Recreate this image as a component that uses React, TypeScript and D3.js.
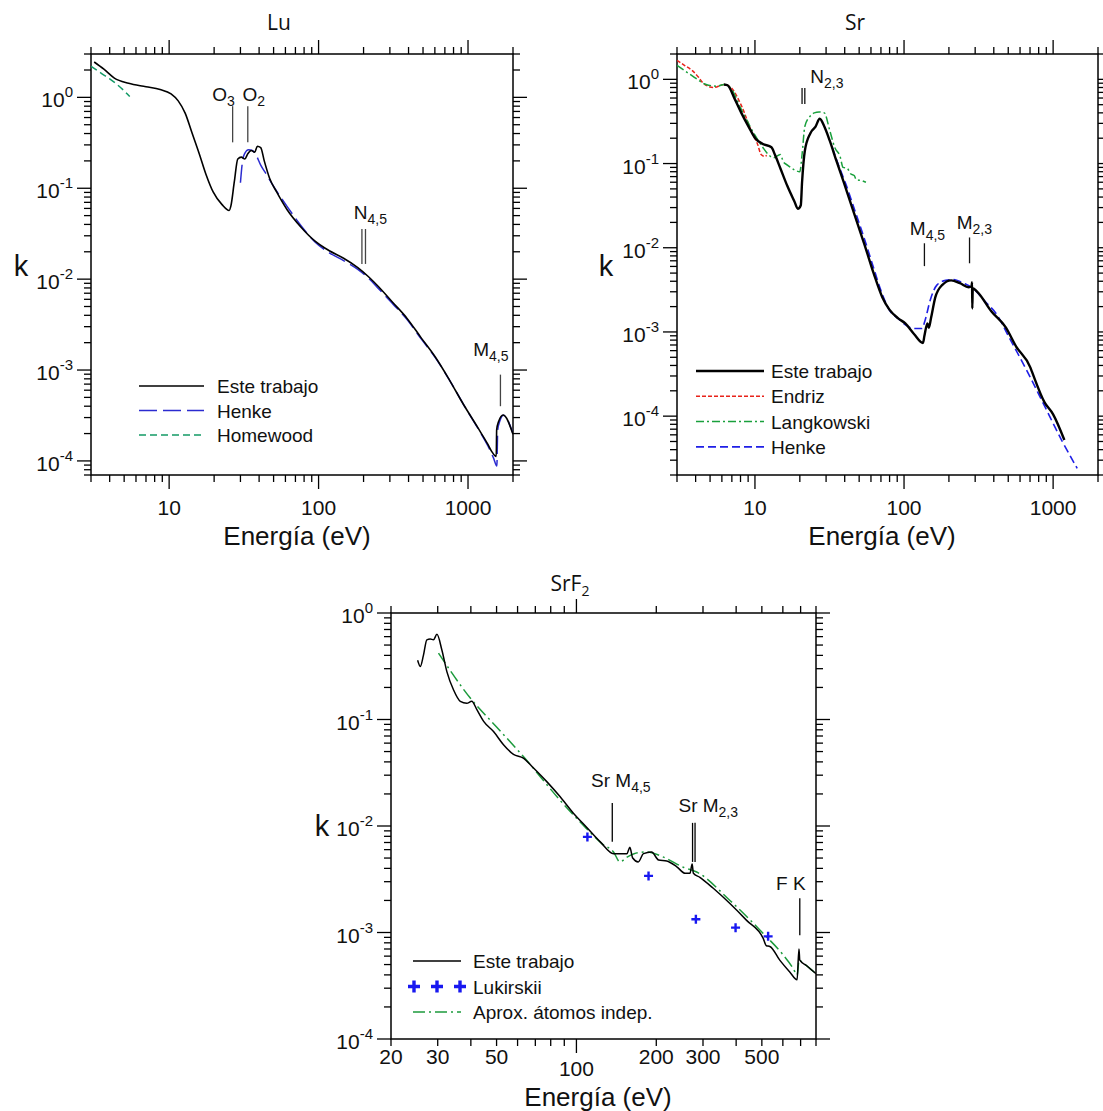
import React from 'react'
import * as d3 from 'd3'

type Pt = [number, number]

// ---- Lu ----
const luEste: Pt[] = [
  [3.15, 2.45], [3.66, 2.04], [4.3, 1.63], [5.35, 1.43], [7.0, 1.31], [8.7, 1.22], [10.3, 1.09],
  [11.5, 0.915], [12.8, 0.67], [14.2, 0.41], [15.9, 0.24], [17.7, 0.14], [19.7, 0.091], [22.6, 0.066],
  [25.2, 0.057], [25.9, 0.064], [27.3, 0.118], [28.8, 0.21], [30.4, 0.22], [32.1, 0.21], [33.6, 0.24],
  [35.5, 0.26], [37.4, 0.25], [38.9, 0.29], [41.0, 0.28], [43.3, 0.2], [47.0, 0.129], [52.4, 0.091],
  [61.6, 0.058], [76.6, 0.037], [95.2, 0.026], [110, 0.022], [118, 0.0205], [147, 0.017], [183, 0.0134],
  [215, 0.0107], [253, 0.0082], [315, 0.0055], [391, 0.0037], [486, 0.00226], [604, 0.00139],
  [750, 0.00078], [931, 0.00042], [1158, 0.000235], [1362, 0.000151], [1450, 0.000125],
  [1545, 0.000112], [1555, 0.00022], [1600, 0.00027], [1720, 0.00032], [2000, 0.000196],
]
const luHenke: Pt[] = [
  [30, 0.115], [31, 0.2], [32, 0.24], [34, 0.265], [36, 0.26], [38, 0.235], [41, 0.18], [45, 0.14],
  [50, 0.105], [62, 0.062], [77, 0.038], [95, 0.0255], [118, 0.0195], [147, 0.016], [183, 0.0128],
  [215, 0.0103], [253, 0.0078], [315, 0.0053], [391, 0.0036], [486, 0.0022], [604, 0.00137],
  [750, 0.00078], [931, 0.00042], [1158, 0.000232], [1362, 0.000145], [1480, 0.000108],
  [1560, 8.8e-5], [1580, 0.00022], [1640, 0.00028], [1720, 0.000318], [2000, 0.0002],
]
const luHomewood: Pt[] = [[3, 2.2], [3.5, 1.85], [4, 1.6], [4.5, 1.38], [5, 1.18], [5.45, 1.02]]

// ---- Sr ----
const srEste: Pt[] = [
  [6.2, 0.87], [6.55, 0.85], [7.3, 0.59], [8.1, 0.4], [9.06, 0.275], [10.1, 0.197], [11.3, 0.171],
  [12.9, 0.156], [13.6, 0.128], [14.8, 0.088], [16.5, 0.054], [18.4, 0.0354], [19.4, 0.029],
  [20.3, 0.032], [20.7, 0.06], [21.6, 0.141], [23.5, 0.228], [25.5, 0.275], [27.2, 0.34], [29.2, 0.275],
  [31.7, 0.188], [35.3, 0.106], [39.4, 0.06], [46.3, 0.0254], [54.5, 0.0107], [62.5, 0.005],
  [71.6, 0.00257], [79.8, 0.00184], [91.4, 0.00145], [102, 0.00126], [117, 0.00094], [134, 0.00074],
  [137, 0.0009], [143.5, 0.00126], [146.7, 0.00112], [151.6, 0.00145], [162, 0.00257], [180, 0.0036],
  [207, 0.0041], [237, 0.0038], [271, 0.0034], [284, 0.0035], [286, 0.0039], [287, 0.0019],
  [289, 0.0033], [310, 0.003], [386, 0.00175], [480, 0.00114], [565, 0.00067], [703, 0.00038],
  [720, 0.00034], [874, 0.000147], [1000, 0.000105], [1190, 5.2e-5],
]
const srEndriz: Pt[] = [
  [3, 1.68], [3.4, 1.45], [3.8, 1.27], [4.2, 1.05], [4.5, 0.9], [5.3, 0.8], [6.2, 0.87], [6.9, 0.8],
  [8.1, 0.49], [9.6, 0.228], [10.4, 0.171], [11, 0.128], [11.6, 0.122], [12, 0.125],
]
const srLangkowski: Pt[] = [
  [3, 1.47], [3.8, 1.1], [4.7, 0.87], [5.6, 0.83], [6.2, 0.87], [6.9, 0.78], [8.1, 0.44], [10, 0.217],
  [11.3, 0.155], [12.3, 0.128], [13.3, 0.117], [14.8, 0.128], [15.5, 0.105], [16.5, 0.096],
  [18.4, 0.084], [20, 0.08], [20.7, 0.128], [21.6, 0.275], [23.5, 0.367], [25, 0.4], [26.9, 0.41],
  [29.2, 0.4], [31.7, 0.25], [34.3, 0.155], [37.2, 0.122], [39, 0.09], [41.5, 0.088], [44, 0.075],
  [46.3, 0.072], [48, 0.064], [51.6, 0.063], [55.5, 0.06],
]
const srHenke: Pt[] = [
  [33, 0.155], [35, 0.115], [38, 0.078], [40, 0.062], [47, 0.027], [55, 0.0118], [63, 0.0055],
  [70, 0.0031], [80, 0.0018], [92, 0.00143], [100, 0.00125], [117, 0.0011], [132, 0.0011],
  [138, 0.00135], [150, 0.0024], [166, 0.0036], [190, 0.0041], [215, 0.0042], [250, 0.0038],
  [290, 0.0033], [350, 0.0023], [420, 0.0016], [507, 0.00086], [665, 0.00035], [874, 0.000133],
  [1146, 5.1e-5], [1450, 2.4e-5],
]

// ---- SrF2 ----
const srf2Este: Pt[] = [
  [25.2, 0.36], [25.8, 0.315], [26.5, 0.4], [27.3, 0.56], [28.1, 0.57], [28.9, 0.56], [29.8, 0.63],
  [31.1, 0.45], [32.5, 0.28], [34.4, 0.19], [36.5, 0.148], [38.6, 0.142], [40.3, 0.148], [42.2, 0.123],
  [44.7, 0.096], [48.7, 0.077], [53.1, 0.058], [57.9, 0.047], [63.1, 0.0433], [68.9, 0.035],
  [77.3, 0.0261], [86.7, 0.0189], [97.4, 0.0132], [109, 0.0098], [123, 0.0071], [138, 0.0055],
  [146, 0.0055], [155, 0.0055], [159, 0.0063], [163, 0.005], [171, 0.0046], [179, 0.0055],
  [192, 0.0057], [204, 0.0048], [219, 0.0047], [239, 0.00414], [257, 0.0036], [268, 0.0036],
  [273, 0.0044], [276, 0.0036], [292, 0.0033], [328, 0.0026], [379, 0.00187], [438, 0.0013],
  [506, 0.00088], [520, 0.00075], [536, 0.00074], [584, 0.00055], [637, 0.000426], [679, 0.00036],
  [690, 0.0007], [695, 0.00055], [736, 0.00049], [800, 0.00041],
]
const srf2Aprox: Pt[] = [
  [30.2, 0.42], [39.8, 0.159], [50, 0.085], [63.1, 0.045], [86.7, 0.0175], [109, 0.0095],
  [125, 0.0068], [138, 0.0057], [146, 0.0046], [155, 0.0051], [165, 0.0055], [184, 0.0057],
  [213, 0.0051], [253, 0.0041], [284, 0.0037], [379, 0.002], [506, 0.00098], [600, 0.00062],
  [656, 0.00046], [679, 0.0004], [691, 0.00055], [713, 0.00052], [800, 0.00041],
]
const srf2Lukirskii: Pt[] = [[110, 0.0079], [187, 0.0034], [282, 0.00133], [398, 0.00111], [528, 0.00092]]

// edge markers: energies, [k low, k high]
const luEdges = [
  { e: [26.6], k: [0.32, 0.8] },
  { e: [33.6], k: [0.32, 0.8] },
  { e: [195, 206], k: [0.0147, 0.0356] },
  { e: [1648], k: [0.0004, 0.00089] },
]
const luEdgeLabels = [
  { e: 23.1, k: 0.92, main: 'O', sub: '3' },
  { e: 36.8, k: 0.92, main: 'O', sub: '2' },
  { e: 222, k: 0.0457, main: 'N', sub: '4,5' },
  { e: 1422, k: 0.00144, main: 'M', sub: '4,5' },
]
const srEdges = [
  { e: [20.7, 21.6], k: [0.51, 0.79] },
  { e: [137], k: [0.00605, 0.0113] },
  { e: [275], k: [0.00654, 0.01325] },
]
const srEdgeLabels = [
  { e: 23.5, k: 0.906, main: 'N', sub: '2,3', anchor: 'start' },
  { e: 143.6, k: 0.01416, main: 'M', sub: '4,5' },
  { e: 296, k: 0.0167, main: 'M', sub: '2,3' },
]
const srf2Edges = [
  { e: [136.5], k: [0.0071, 0.0164] },
  { e: [274, 280], k: [0.0046, 0.0107] },
  { e: [695], k: [0.00094, 0.0021] },
]
const srf2EdgeLabels = [
  { e: 147, k: 0.0234, main: 'Sr M', sub: '4,5' },
  { e: 314, k: 0.0136, main: 'Sr M', sub: '2,3' },
  { e: 643, k: 0.0025, main: 'F K', sub: '' },
]

const luXLabels = [10, 100, 1000]
const srXLabels = [10, 100, 1000]
const srf2XLabels = [20, 30, 50, 100, 200, 300, 500]
const yLabelExps = [0, -1, -2, -3, -4]

const SANS = '"Liberation Sans", Arial, Helvetica, sans-serif'
const TITLE = '"Open Sans", "Noto Sans", sans-serif'

const isDecade = (v: number) => Math.abs(Math.log10(v) - Math.round(Math.log10(v))) < 1e-6

const Panel = ({ cfg }: any) => {
  const x = d3.scaleLog().domain(cfg.xDomain).range([cfg.left, cfg.right])
  const y = d3.scaleLog().domain(cfg.yDomain).range([cfg.bottom, cfg.top])
  const line = d3
    .line<Pt>()
    .x(d => x(d[0]))
    .y(d => y(d[1]))
    .curve(d3.curveMonotoneX)
  const xt = x.ticks()
  const yt = y.ticks()
  const maj = 14
  const mnr = 7
  const clip = `clip-${cfg.id}`
  const lg = cfg.legend

  return (
    <g>
      <defs>
        <clipPath id={clip}>
          <rect x={cfg.left} y={cfg.top} width={cfg.right - cfg.left} height={cfg.bottom - cfg.top} />
        </clipPath>
      </defs>

      {/* ticks, outward on all four sides */}
      <g stroke="#000" strokeWidth={1.3}>
        {xt.map((v, i) => {
          const L = isDecade(v) ? maj : mnr
          return (
            <g key={'x' + i}>
              <line x1={x(v)} x2={x(v)} y1={cfg.bottom} y2={cfg.bottom + L} />
              <line x1={x(v)} x2={x(v)} y1={cfg.top} y2={cfg.top - L} />
            </g>
          )
        })}
        {yt.map((v, i) => {
          const L = isDecade(v) ? maj : mnr
          return (
            <g key={'y' + i}>
              <line x1={cfg.left} x2={cfg.left - L} y1={y(v)} y2={y(v)} />
              <line x1={cfg.right} x2={cfg.right + L} y1={y(v)} y2={y(v)} />
            </g>
          )
        })}
      </g>
      <rect
        x={cfg.left}
        y={cfg.top}
        width={cfg.right - cfg.left}
        height={cfg.bottom - cfg.top}
        fill="none"
        stroke="#000"
        strokeWidth={1.5}
      />

      {/* tick labels */}
      <g fontFamily={SANS} fontSize={21} fill="#111">
        {cfg.xLabels.map((v: number) => (
          <text key={v} x={x(v)} y={cfg.bottom + (isDecade(v) ? cfg.majLabelDy : 25)} textAnchor="middle">
            {v}
          </text>
        ))}
        {yLabelExps.map(p => (
          <text key={p} x={cfg.left - 18} y={y(Math.pow(10, p)) + 10} textAnchor="end">
            <tspan>10</tspan>
            <tspan dy={-10} fontSize={15}>
              {p}
            </tspan>
          </text>
        ))}
      </g>

      {/* axis titles */}
      <text x={cfg.xTitle[0]} y={cfg.xTitle[1]} fontFamily={SANS} fontSize={26} textAnchor="middle" fill="#111">
        Energía (eV)
      </text>
      <text x={cfg.kPos[0]} y={cfg.kPos[1]} fontFamily={SANS} fontSize={29} textAnchor="middle" fill="#111">
        k
      </text>
      <text x={cfg.titlePos[0]} y={cfg.titlePos[1]} fontFamily={TITLE} fontSize={21} textAnchor="middle" fill="#111">
        {cfg.title}
        {cfg.titleSub && (
          <tspan dy={5} fontSize={14}>
            {cfg.titleSub}
          </tspan>
        )}
      </text>

      {/* edge markers */}
      <g stroke={cfg.edgeColor} strokeWidth={1.3}>
        {cfg.edges.map((m: any, i: number) =>
          m.e.map((e: number, j: number) => (
            <line key={i + '-' + j} x1={x(e)} x2={x(e)} y1={y(m.k[0])} y2={y(m.k[1])} />
          ))
        )}
      </g>
      <g fontFamily={SANS} fontSize={19} fill="#111">
        {cfg.edgeLabels.map((l: any, i: number) => (
          <text key={i} x={x(l.e)} y={y(l.k)} textAnchor={l.anchor || 'middle'}>
            <tspan>{l.main}</tspan>
            {l.sub && (
              <tspan dy={5} fontSize={14}>
                {l.sub}
              </tspan>
            )}
          </text>
        ))}
      </g>

      {/* series */}
      <g clipPath={`url(#${clip})`} fill="none">
        {cfg.series.map((s: any, i: number) => (
          <path
            key={i}
            d={line(s.data) || ''}
            stroke={s.color}
            strokeWidth={s.width}
            strokeDasharray={s.dash}
            strokeLinejoin="round"
          />
        ))}
        {cfg.points &&
          cfg.points.data.map((d: Pt, i: number) => (
            <path
              key={'p' + i}
              d={`M${x(d[0]) - 4.5},${y(d[1])}h9M${x(d[0])},${y(d[1]) - 4.5}v9`}
              stroke={cfg.points.color}
              strokeWidth={2.4}
            />
          ))}
      </g>

      {/* legend */}
      <g fontFamily={SANS} fontSize={19} fill="#111">
        {lg.items.map((it: any, i: number) => {
          const yy = lg.y0 + i * lg.step
          return (
            <g key={i}>
              {it.plus ? (
                [lg.x0 + 1, (lg.x0 + lg.x1) / 2, lg.x1 - 1].map((px, j) => (
                  <path key={j} d={`M${px - 6},${yy}h12M${px},${yy - 6}v12`} stroke={it.color} strokeWidth={3.4} />
                ))
              ) : (
                <line
                  x1={lg.x0}
                  x2={lg.x1}
                  y1={yy}
                  y2={yy}
                  stroke={it.color}
                  strokeWidth={it.width}
                  strokeDasharray={it.dash}
                />
              )}
              <text x={lg.tx} y={yy + 7}>
                {it.label}
              </text>
            </g>
          )
        })}
      </g>
    </g>
  )
}

const luCfg = {
  id: 'lu',
  xDomain: [3, 2000],
  yDomain: [7e-5, 3],
  left: 91,
  right: 513,
  top: 54,
  bottom: 475,
  xLabels: luXLabels,
  majLabelDy: 40,
  xTitle: [297, 545],
  kPos: [21, 276],
  titlePos: [279, 30],
  title: 'Lu',
  edgeColor: '#444',
  edges: luEdges,
  edgeLabels: luEdgeLabels,
  series: [
    { data: luHomewood, color: '#139a66', width: 1.5, dash: '7,4' },
    { data: luHenke, color: '#2b2bd0', width: 1.5, dash: '18,6' },
    { data: luEste, color: '#000', width: 1.6 },
  ],
  legend: {
    x0: 139,
    x1: 204,
    tx: 217,
    y0: 386,
    step: 24.5,
    items: [
      { label: 'Este trabajo', color: '#000', width: 1.6 },
      { label: 'Henke', color: '#2b2bd0', width: 1.5, dash: '18,6' },
      { label: 'Homewood', color: '#139a66', width: 1.5, dash: '7,4' },
    ],
  },
}

const srCfg = {
  id: 'sr',
  xDomain: [3, 2000],
  yDomain: [2e-5, 2],
  left: 677,
  right: 1098,
  top: 54,
  bottom: 475,
  xLabels: srXLabels,
  majLabelDy: 40,
  xTitle: [882, 545],
  kPos: [606, 276],
  titlePos: [855, 30],
  title: 'Sr',
  edgeColor: '#111',
  edges: srEdges,
  edgeLabels: srEdgeLabels,
  series: [
    { data: srEndriz, color: '#e8231a', width: 1.5, dash: '4,2' },
    { data: srLangkowski, color: '#19a03c', width: 1.5, dash: '8,3,2,3' },
    { data: srHenke, color: '#1f1fe6', width: 1.6, dash: '8,4' },
    { data: srEste, color: '#000', width: 2.4 },
  ],
  legend: {
    x0: 696,
    x1: 764,
    tx: 771,
    y0: 371,
    step: 25.3,
    items: [
      { label: 'Este trabajo', color: '#000', width: 2.4 },
      { label: 'Endriz', color: '#e8231a', width: 1.5, dash: '4,2' },
      { label: 'Langkowski', color: '#19a03c', width: 1.5, dash: '8,3,2,3' },
      { label: 'Henke', color: '#1f1fe6', width: 1.6, dash: '8,4' },
    ],
  },
}

const srf2Cfg = {
  id: 'srf2',
  xDomain: [20, 800],
  yDomain: [1e-4, 1],
  left: 391,
  right: 816,
  top: 613,
  bottom: 1039,
  xLabels: srf2XLabels,
  majLabelDy: 37,
  xTitle: [598, 1106],
  kPos: [322, 836],
  titlePos: [570, 591],
  title: 'SrF',
  titleSub: '2',
  edgeColor: '#000',
  edges: srf2Edges,
  edgeLabels: srf2EdgeLabels,
  series: [
    { data: srf2Aprox, color: '#1c9a3c', width: 1.5, dash: '12,4,2,4' },
    { data: srf2Este, color: '#000', width: 1.5 },
  ],
  points: { data: srf2Lukirskii, color: '#1818f0' },
  legend: {
    x0: 413,
    x1: 461,
    tx: 473,
    y0: 961,
    step: 25.5,
    items: [
      { label: 'Este trabajo', color: '#000', width: 1.5 },
      { label: 'Lukirskii', color: '#1818f0', plus: true },
      { label: 'Aprox. átomos indep.', color: '#1c9a3c', width: 1.5, dash: '12,4,2,4' },
    ],
  },
}

export default function App() {
  return (
    <svg
      width={1103}
      height={1111}
      style={{ position: 'absolute', left: 0, top: 0, background: '#fff' }}
    >
      <rect width={1103} height={1111} fill="#fff" />
      <Panel cfg={luCfg} />
      <Panel cfg={srCfg} />
      <Panel cfg={srf2Cfg} />
    </svg>
  )
}
